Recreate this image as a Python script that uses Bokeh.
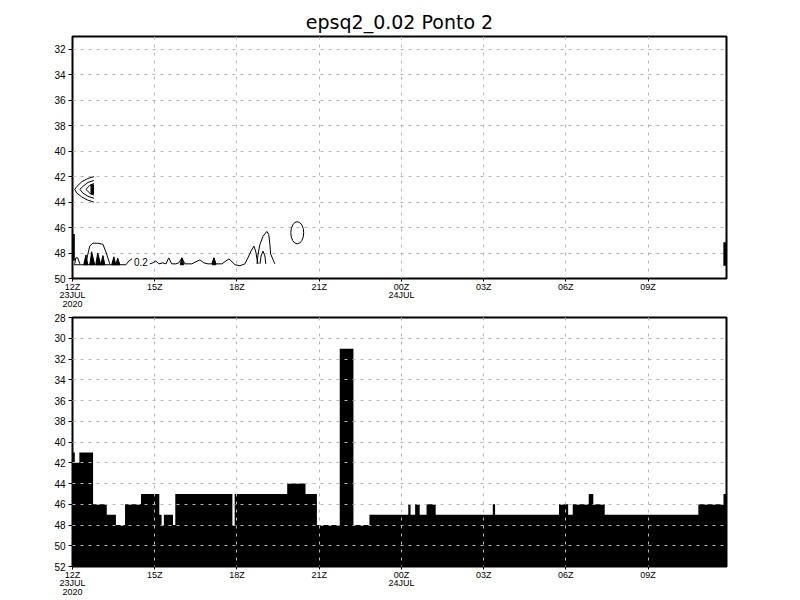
from bokeh.plotting import figure
from bokeh.models import Range1d, FixedTicker, Label
from bokeh.layouts import column
from bokeh.embed import file_html
from bokeh.resources import INLINE

FONT = "Liberation Sans"

title_text = "epsq2_0.02 Ponto 2"

# time axis (hours after 12Z 23JUL2020)
x_end_h = 23.86
time_ticks_h = [0, 3, 6, 9, 12, 15, 18, 21]
time_tick_labels = ["12Z\n23JUL\n2020", "15Z", "18Z", "21Z", "00Z\n24JUL", "03Z", "06Z", "09Z"]

top_levels = [32, 34, 36, 38, 40, 42, 44, 46, 48, 50]
bottom_levels = [28, 30, 32, 34, 36, 38, 40, 42, 44, 46, 48, 50, 52]

# bottom panel: level per time step (minutes after 12Z)
bar_edges_min = [0, 5, 15, 45, 75, 95, 115, 150, 190, 195, 200, 220, 225, 350, 355,
                 470, 510, 535, 585, 615, 650, 735, 740, 750, 760, 775, 795, 920, 925,
                 1065, 1085, 1095, 1130, 1140, 1165, 1370, 1425, 1432]
bar_levels = [41, 42, 41, 46, 47, 48, 46, 45, 47, 48, 47, 48, 45, 48, 45, 44, 45, 48, 31, 48,
              47, 46, 47, 46, 47, 46, 47, 46, 47, 46, 47, 46, 45, 46, 47, 46, 45]

# top panel: contour lines of epsq2 (hours, level)
chev_outer_x = [0.78, 0.56, 0.34, 0.16, 0.08, 0.16, 0.34, 0.56, 0.78]
chev_outer_y = [42.0, 42.15, 42.4, 42.77, 43.0, 43.3, 43.6, 43.85, 44.0]
chev_mid_x = [0.78, 0.56, 0.38, 0.27, 0.38, 0.56, 0.78]
chev_mid_y = [42.3, 42.46, 42.77, 43.0, 43.3, 43.54, 43.7]
chev_inner_x = [0.78, 0.63, 0.49, 0.63, 0.78]
chev_inner_y = [42.54, 42.69, 43.0, 43.3, 43.46]
chev_core_x = [0.72, 0.72]
chev_core_y = [42.6, 43.4]

edge_left_x = [0.03, 0.03]
edge_left_y = [46.5, 48.6]
edge_right_x = [23.8, 23.8]
edge_right_y = [47.15, 49.0]

bump_x = [0.08, 0.12, 0.19, 0.27]
bump_y = [48.85, 48.38, 48.38, 48.85]
lobe0_x = [0.49, 0.56, 0.63, 0.74, 0.92, 1.11, 1.22, 1.29, 1.36]
lobe0_y = [48.85, 48.08, 47.46, 47.23, 47.23, 47.31, 47.92, 48.38, 48.85]
base0_x = [0.05, 1.95, 2.06, 2.17]
base0_y = [48.92, 48.92, 48.62, 48.46]

spike_x = [[0.41, 0.49, 0.56], [0.63, 0.70, 0.81], [0.85, 0.92, 1.03], [1.03, 1.11, 1.18],
           [1.43, 1.51, 1.58], [1.58, 1.65, 1.73], [3.93, 3.99, 4.06], [5.10, 5.16, 5.23]]
spike_y = [[48.92, 48.15, 48.92], [48.92, 47.9, 48.92], [48.92, 48.0, 48.92], [48.92, 48.2, 48.92],
           [48.92, 48.3, 48.92], [48.92, 48.4, 48.92], [48.92, 48.38, 48.92], [48.92, 48.38, 48.92]]

wiggle_x = [2.82, 2.93, 3.04, 3.15, 3.30, 3.41, 3.51, 3.62, 3.77, 3.88, 3.99, 4.10, 4.35, 4.50,
            4.65, 4.79, 4.94, 5.08, 5.16, 5.23, 5.45, 5.60, 5.71, 5.82, 5.93, 6.11, 6.29]
wiggle_y = [48.85, 48.77, 48.62, 48.85, 48.77, 48.85, 48.38, 48.85, 48.85, 48.77, 48.38, 48.85,
            48.85, 48.69, 48.54, 48.77, 48.85, 48.85, 48.38, 48.85, 48.85, 48.62, 48.46, 48.69,
            48.92, 49.0, 48.85]

lobe1_x = [6.29, 6.40, 6.51, 6.62, 6.69, 6.73, 6.77]
lobe1_y = [48.85, 48.38, 47.85, 47.46, 47.92, 48.46, 48.85]
lobe2_x = [6.73, 6.77, 6.84, 6.95, 7.09, 7.16, 7.20, 7.23, 7.35, 7.38]
lobe2_y = [48.85, 48.08, 47.31, 46.69, 46.31, 46.54, 47.31, 48.08, 48.69, 48.85]
lobe3_x = [6.84, 6.88, 6.95, 7.02, 7.05]
lobe3_y = [48.85, 48.23, 47.85, 48.23, 48.85]

ring_x, ring_y, ring_w, ring_h = 8.2, 46.41, 0.47, 1.74

contour_label = "0.2"
contour_label_x, contour_label_y = 2.24, 48.7

GRID = "#b4b4b4"


def style(p, levels):
    p.outline_line_color = "black"
    p.outline_line_width = 2
    p.outline_line_alpha = 1
    p.xaxis.ticker = FixedTicker(ticks=time_ticks_h)
    p.xaxis.major_label_overrides = {t: l for t, l in zip(time_ticks_h, time_tick_labels)}
    p.yaxis.ticker = FixedTicker(ticks=levels)
    for ax in (p.xaxis[0], p.yaxis[0]):
        ax.axis_line_color = None
        ax.major_tick_line_color = "black"
        ax.major_tick_line_width = 1
        ax.major_tick_out = 4
        ax.major_tick_in = 0
        ax.minor_tick_line_color = None
        ax.major_label_text_font = FONT
        ax.major_label_text_font_size = "10px"
        ax.major_label_text_color = "black"
        ax.major_label_standoff = 3
    xa = p.xaxis[0]
    xa.major_tick_out = 3
    xa.major_label_standoff = 0
    xa.major_label_text_font_size = "9px"
    xa.major_label_text_line_height = 0.85
    p.xgrid.ticker = FixedTicker(ticks=time_ticks_h)
    p.ygrid.ticker = FixedTicker(ticks=levels)
    for g in (p.xgrid[0], p.ygrid[0]):
        g.grid_line_color = GRID
        g.grid_line_dash = "3 5"
        g.grid_line_width = 1
    p.background_fill_color = "white"
    p.border_fill_color = "white"


# ---------- top panel ----------
p1 = figure(width=800, height=311, x_range=Range1d(0, x_end_h), y_range=Range1d(50, 31),
            output_backend="svg", toolbar_location=None, title=title_text,
            min_border_left=72, min_border_right=74, min_border_top=36, min_border_bottom=28)
style(p1, top_levels)
p1.title.align = "center"
p1.title.text_font = "DejaVu Sans"
p1.title.text_font_size = "19px"
p1.title.text_font_style = "normal"
p1.title.text_color = "black"
p1.title.standoff = 8

for xs, ys, w in [(chev_outer_x, chev_outer_y, 1), (chev_mid_x, chev_mid_y, 1),
                  (chev_inner_x, chev_inner_y, 1), (chev_core_x, chev_core_y, 3.5),
                  (edge_left_x, edge_left_y, 3), (edge_right_x, edge_right_y, 3),
                  (bump_x, bump_y, 1), (lobe0_x, lobe0_y, 1), (base0_x, base0_y, 1),
                  (wiggle_x, wiggle_y, 1), (lobe1_x, lobe1_y, 1), (lobe2_x, lobe2_y, 1),
                  (lobe3_x, lobe3_y, 1)]:
    p1.line(xs, ys, line_color="black", line_width=w)
p1.patches(spike_x, spike_y, fill_color="black", line_color="black", line_width=1)
p1.ellipse(x=[ring_x], y=[ring_y], width=[ring_w], height=[ring_h],
           fill_color=None, line_color="black", line_width=1)
p1.add_layout(Label(x=contour_label_x, y=contour_label_y, text=contour_label,
                    text_font=FONT, text_font_size="10px", text_baseline="middle",
                    text_align="left", text_color="black"))

# ---------- bottom panel ----------
p2 = figure(width=800, height=289, x_range=Range1d(0, x_end_h), y_range=Range1d(52, 28),
            output_backend="svg", toolbar_location=None,
            min_border_left=72, min_border_right=74, min_border_top=6, min_border_bottom=34)
style(p2, bottom_levels)

bx = [bar_edges_min[0] / 60.0]
by = [52]
for i, v in enumerate(bar_levels):
    bx += [bar_edges_min[i] / 60.0, bar_edges_min[i + 1] / 60.0]
    by += [v, v]
bx.append(bar_edges_min[-1] / 60.0)
by.append(52)
p2.patch(bx, by, fill_color="black", line_color=None)
p2.xgrid.level = "overlay"
p2.ygrid.level = "overlay"

layout = column(p1, p2, spacing=0)
open("out.html", "w").write(file_html(layout, INLINE))
